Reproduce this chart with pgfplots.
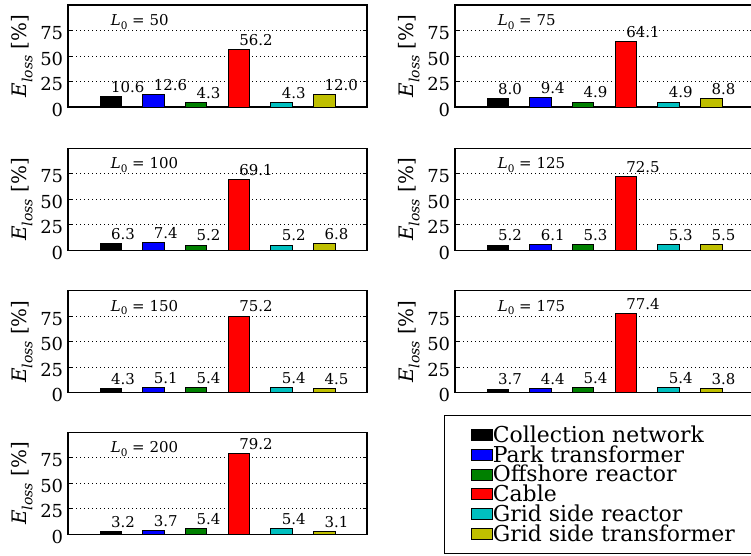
\documentclass[border=0pt]{standalone}
\usepackage{fontspec}
\setmainfont{DejaVu Serif}
\usepackage{pgfplots}
\usepackage{pgfplotstable}
\pgfplotsset{compat=1.18}

\definecolor{mplgreen}{rgb}{0,0.5,0}
\definecolor{mplcyan}{rgb}{0,0.75,0.75}
\definecolor{mplyellow}{rgb}{0.75,0.75,0}

% Loss share per component (1 collection network, 2 park transformer,
% 3 offshore reactor, 4 cable, 5 grid side reactor, 6 grid side transformer)
\pgfplotstableread{
x y
1 10.6
2 12.6
3 4.3
4 56.2
5 4.3
6 12.0
}\lossL
\pgfplotstableread{
x y
1 8.0
2 9.4
3 4.9
4 64.1
5 4.9
6 8.8
}\lossLL
\pgfplotstableread{
x y
1 6.3
2 7.4
3 5.2
4 69.1
5 5.2
6 6.8
}\lossC
\pgfplotstableread{
x y
1 5.2
2 6.1
3 5.3
4 72.5
5 5.3
6 5.5
}\lossCXXV
\pgfplotstableread{
x y
1 4.3
2 5.1
3 5.4
4 75.2
5 5.4
6 4.5
}\lossCL
\pgfplotstableread{
x y
1 3.7
2 4.4
3 5.4
4 77.4
5 5.4
6 3.8
}\lossCLXXV
\pgfplotstableread{
x y
1 3.2
2 3.7
3 5.4
4 79.2
5 5.4
6 3.1
}\lossCC

\newcommand\lossbars[1]{%
  \addplot[forget plot, draw=black, fill=black,      restrict x to domain=0.5:1.5] table[x=x,y=y] {#1};
  \addplot[forget plot, draw=black, fill=blue,       restrict x to domain=1.5:2.5] table[x=x,y=y] {#1};
  \addplot[forget plot, draw=black, fill=mplgreen,   restrict x to domain=2.5:3.5] table[x=x,y=y] {#1};
  \addplot[forget plot, draw=black, fill=red,        restrict x to domain=3.5:4.5] table[x=x,y=y] {#1};
  \addplot[forget plot, draw=black, fill=mplcyan,    restrict x to domain=4.5:5.5] table[x=x,y=y] {#1};
  \addplot[forget plot, draw=black, fill=mplyellow,  restrict x to domain=5.5:6.5] table[x=x,y=y] {#1};
}
\newcommand\lnaught[1]{\node[anchor=base west, inner sep=0pt, font=\fontsize{15}{15}\selectfont]
  at (axis cs:1,80) {\textit{L}\raisebox{-0.25em}{\fontsize{10.5}{10.5}\selectfont 0} = #1};}

\pgfplotsset{
  lossplot/.style={
    scale only axis, width=299bp, height=102bp,
    xmin=0, xmax=7, ymin=0, ymax=100,
    xtick=\empty, ytick={0,25,50,75},
    /pgf/number format/assume math mode=true,
    ymajorgrids,
    grid style={black, line width=0.8bp, dash pattern=on 1bp off 3bp},
    tick align=inside, major tick length=4bp,
    tick style={black, line width=0.8bp},
    axis line style={line width=1.2bp},
    ybar, bar width=0.5, bar shift=0pt,
    every axis plot/.append style={line width=0.8bp, bar shift=0pt},
    ylabel={\textit{E}\raisebox{-0.3em}{\fontsize{14}{14}\selectfont\itshape loss} [\%]},
    every axis y label/.style={at={(axis description cs:-0.154,0.5)}, rotate=90,
      anchor=center, font=\fontsize{20}{20}\selectfont},
    yticklabel style={font=\fontsize{18}{18}\selectfont, inner sep=0pt,
      xshift=-4.7bp, yshift=-2.5bp},
    nodes near coords={\pgfmathprintnumber[fixed,fixed zerofill,precision=1]{\pgfplotspointmeta}},
    every node near coord/.append style={anchor=base west, inner sep=0pt,
      yshift=4bp, font=\fontsize{15}{15}\selectfont, black},
    clip=false,
  },
  lgd/.style={legend image code/.code={%
    \draw[##1, draw=black, line width=0.8bp] (0bp,-5.5bp) rectangle (21bp,5.5bp);}},
}

\begin{document}
\begin{tikzpicture}
\begin{axis}[lossplot, at={(68bp,551bp)}, anchor=north west]
  \lossbars{\lossL}
  \lnaught{50}
\end{axis}
\begin{axis}[lossplot, at={(455bp,551bp)}, anchor=north west]
  \lossbars{\lossLL}
  \lnaught{75}
\end{axis}
\begin{axis}[lossplot, at={(68bp,407.7bp)}, anchor=north west]
  \lossbars{\lossC}
  \lnaught{100}
\end{axis}
\begin{axis}[lossplot, at={(455bp,407.7bp)}, anchor=north west]
  \lossbars{\lossCXXV}
  \lnaught{125}
\end{axis}
\begin{axis}[lossplot, at={(68bp,265.3bp)}, anchor=north west]
  \lossbars{\lossCL}
  \lnaught{150}
\end{axis}
\begin{axis}[lossplot, at={(455bp,265.3bp)}, anchor=north west]
  \lossbars{\lossCLXXV}
  \lnaught{175}
\end{axis}
\begin{axis}[lossplot, at={(68bp,123.7bp)}, anchor=north west,
    legend cell align=left,
    legend style={at={(axis description cs:1.2575,1.1716)}, anchor=north west,
      draw=black, line width=1.2bp, inner xsep=26.5bp, inner ysep=10bp,
      font=\fontsize{22}{22}\selectfont, column sep=0pt, row sep=0pt,
      nodes={inner sep=0pt, text height=17.15bp, text depth=2.55bp}}]
  \lossbars{\lossCC}
  \lnaught{200}
  \addlegendimage{lgd, fill=black}
  \addlegendentry{Collection network}
  \addlegendimage{lgd, fill=blue}
  \addlegendentry{Park transformer}
  \addlegendimage{lgd, fill=mplgreen}
  \addlegendentry{Offshore reactor}
  \addlegendimage{lgd, fill=red}
  \addlegendentry{Cable}
  \addlegendimage{lgd, fill=mplcyan}
  \addlegendentry{Grid side reactor}
  \addlegendimage{lgd, fill=mplyellow}
  \addlegendentry{Grid side transformer}
\end{axis}
\pgfresetboundingbox
\path[use as bounding box] (0bp,0bp) rectangle (751bp,556bp);
\end{tikzpicture}
\end{document}
